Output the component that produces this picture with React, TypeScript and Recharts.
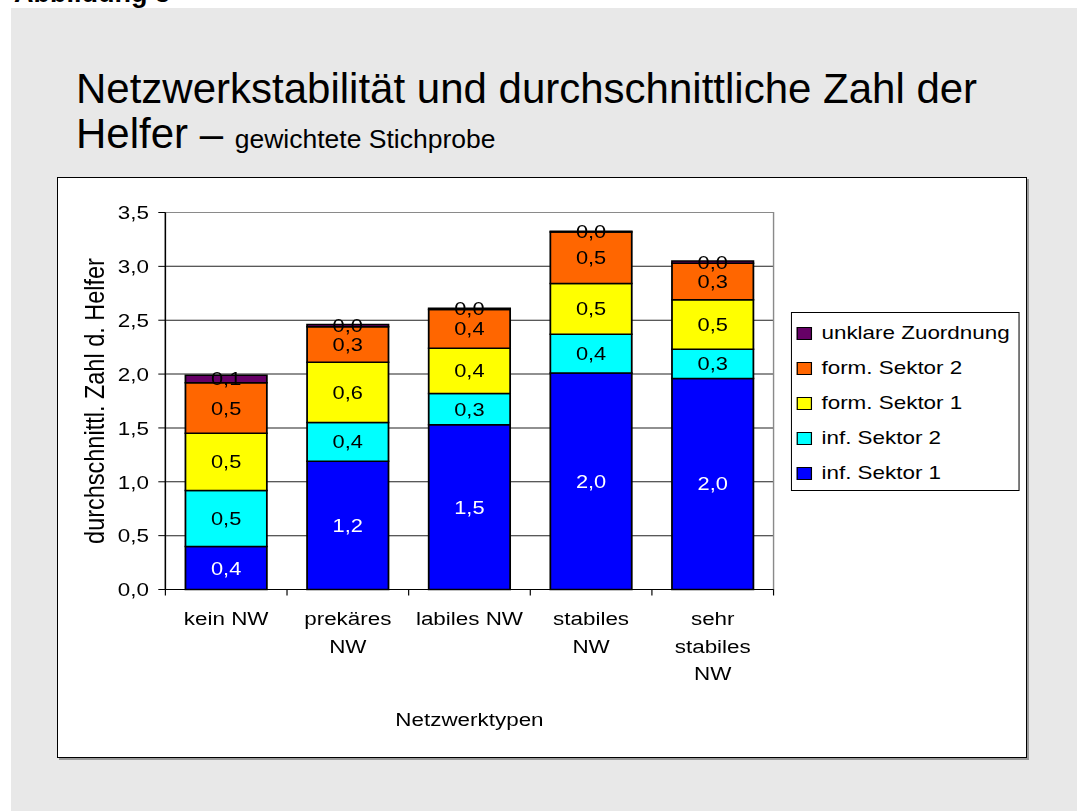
import React from 'react';
import { BarChart, Bar, XAxis, YAxis, CartesianGrid, Legend, LabelList, Label, ReferenceArea } from 'recharts';

const categories = ['kein NW', 'prekäres NW', 'labiles NW', 'stabiles NW', 'sehr stabiles NW'];
const categoryLines = [['kein NW'], ['prekäres', 'NW'], ['labiles NW'], ['stabiles', 'NW'], ['sehr', 'stabiles', 'NW']];
const infSektor1 = [0.4, 1.19, 1.53, 2.01, 1.96];
const infSektor2 = [0.52, 0.36, 0.29, 0.36, 0.27];
const formSektor1 = [0.53, 0.56, 0.42, 0.47, 0.46];
const formSektor2 = [0.47, 0.33, 0.36, 0.48, 0.34];
const unklareZuordnung = [0.07, 0.02, 0.01, 0.005, 0.02];
const yTicks = [0, 0.5, 1, 1.5, 2, 2.5, 3, 3.5];

const series = [
  { key: 'inf1', name: 'inf. Sektor 1', values: infSektor1, color: '#0000FF', labelColor: '#FFFFFF' },
  { key: 'inf2', name: 'inf. Sektor 2', values: infSektor2, color: '#00FFFF', labelColor: '#000000' },
  { key: 'form1', name: 'form. Sektor 1', values: formSektor1, color: '#FFFF00', labelColor: '#000000' },
  { key: 'form2', name: 'form. Sektor 2', values: formSektor2, color: '#FF6600', labelColor: '#000000' },
  { key: 'unklar', name: 'unklare Zuordnung', values: unklareZuordnung, color: '#660066', labelColor: '#000000' },
];

const data = categories.map((c, i) => {
  const row: Record<string, any> = { category: c, idx: i };
  series.forEach((s) => {
    row[s.key] = s.values[i];
  });
  return row;
});

const FONT = '"Liberation Sans", Arial, Helvetica, sans-serif';
const SX = 1.18;
const CHART_W = 820;
const CHART_H = 578;
const MARGIN = { top: 34.5, right: 213.6, bottom: 16.5, left: 0 };
const Y_AXIS_W = 91;
const X_AXIS_H = 150;
const PLOT_W = CHART_W - MARGIN.left - MARGIN.right - Y_AXIS_W;
const BAND = PLOT_W / categories.length;

const fmt = (v: any) => Number(v).toFixed(1).replace('.', ',');

function CategoryTick(props: any) {
  const { x, y, index } = props;
  const lines = categoryLines[index] || [];
  const isLast = index === categories.length - 1;
  return (
    <g>
      <line x1={x - BAND / 2} x2={x - BAND / 2} y1={y} y2={y + 6} stroke="#000" strokeWidth={1} />
      {isLast && <line x1={x + BAND / 2} x2={x + BAND / 2} y1={y} y2={y + 6} stroke="#000" strokeWidth={1} />}
      <text x={x} y={y + 36} textAnchor="middle" fontSize={19} fontFamily={FONT} fill="#000">
        {lines.map((ln, i) => (
          <tspan key={i} x={x} dy={i === 0 ? 0 : 27.5}>
            {ln}
          </tspan>
        ))}
      </text>
    </g>
  );
}

function LegendBox() {
  const items = [...series].reverse();
  return (
    <div
      style={{
        width: 194,
        height: 179,
        boxSizing: 'border-box',
        border: '1px solid #000',
        background: '#fff',
        paddingTop: 3,
        fontFamily: FONT,
      }}
    >
      {items.map((s) => (
        <div key={s.key} style={{ height: 35, display: 'flex', alignItems: 'center' }}>
          <div
            style={{
              width: 11,
              height: 11,
              marginLeft: 4,
              background: s.color,
              border: '1px solid #000',
            }}
          />
          <span style={{ marginLeft: 8, fontSize: 19, color: '#000', whiteSpace: 'nowrap' }}>{s.name}</span>
        </div>
      ))}
    </div>
  );
}

function YTitle(props: any) {
  const vb = props.viewBox || { x: 0, y: 0, width: 0, height: 0 };
  const cx = vb.x + 31;
  const cy = vb.y + vb.height / 2;
  return (
    <text
      x={cx}
      y={cy}
      transform={`rotate(-90 ${cx} ${cy})`}
      textAnchor="middle"
      dominantBaseline="central"
      fontSize={23.5}
      fontFamily={FONT}
      fill="#000"
    >
      durchschnittl. Zahl d. Helfer
    </text>
  );
}

export default function App() {
  return (
    <div
      style={{
        position: 'absolute',
        left: 0,
        top: 0,
        width: 1077,
        height: 811,
        background: '#fff',
        overflow: 'hidden',
        fontFamily: FONT,
      }}
    >
      <div style={{ position: 'absolute', left: 11, top: 8, right: 0, bottom: 0, background: '#E8E8E8' }} />
      <svg width={1077} height={811} style={{ position: 'absolute', left: 0, top: 0 }}>
        <text x={14} y={2} fontSize={27} fontWeight="bold" fontFamily={FONT} fill="#000">
          Abbildung 3
        </text>
        <text x={76} y={103} fontSize={42} fontFamily={FONT} fill="#000">
          Netzwerkstabilität und durchschnittliche Zahl der
        </text>
        <text x={76} y={148} fontFamily={FONT} fill="#000">
          <tspan fontSize={42}>Helfer – </tspan>
          <tspan fontSize={26.5}>gewichtete Stichprobe</tspan>
        </text>
      </svg>
      <div
        style={{
          position: 'absolute',
          left: 57,
          top: 177,
          width: 970,
          height: 581,
          boxSizing: 'border-box',
          border: '1.5px solid #000',
          boxShadow: '2px 2px 0 #9a9a9a',
          background: '#fff',
          overflow: 'hidden',
        }}
      >
        <div style={{ transform: `scaleX(${SX})`, transformOrigin: '0 0', width: CHART_W, height: CHART_H }}>
          <BarChart
            width={CHART_W}
            height={CHART_H}
            data={data}
            margin={MARGIN}
            barSize={69}
            style={{ fontFamily: FONT }}
          >
            <CartesianGrid vertical={false} stroke="#222" strokeWidth={1} />
            <ReferenceArea y1={0} y2={3.5} fill="none" stroke="#8a8a8a" strokeWidth={1.2} ifOverflow="visible" />
            <XAxis
              dataKey="category"
              type="category"
              height={X_AXIS_H}
              interval={0}
              tickSize={0}
              tickMargin={0}
              tickLine={false}
              axisLine={{ stroke: '#000', strokeWidth: 1.2 }}
              tick={<CategoryTick />}
            >
              <Label
                value="Netzwerktypen"
                position="insideBottom"
                offset={13}
                fontSize={19}
                fontFamily={FONT}
                fill="#000"
              />
            </XAxis>
            <YAxis
              type="number"
              domain={[0, 3.5]}
              ticks={yTicks}
              interval={0}
              width={Y_AXIS_W}
              tickSize={6}
              tickMargin={8}
              tickFormatter={fmt}
              axisLine={{ stroke: '#000', strokeWidth: 1.2 }}
              tickLine={{ stroke: '#000', strokeWidth: 1 }}
              tick={{ fill: '#000', fontSize: 19, fontFamily: FONT }}
            >
              <Label content={<YTitle />} />
            </YAxis>
            <Legend
              layout="horizontal"
              verticalAlign="middle"
              align="center"
              wrapperStyle={{ left: 621, top: 133.5, width: 194, height: 179 }}
              content={() => <LegendBox />}
            />
            {series.map((s) => (
              <Bar
                key={s.key}
                dataKey={s.key}
                name={s.name}
                stackId="a"
                fill={s.color}
                stroke="#000"
                strokeWidth={1.5}
                isAnimationActive={false}
              >
                <LabelList
                  dataKey={s.key}
                  position="center"
                  formatter={fmt}
                  fill={s.labelColor}
                  fontSize={18.5}
                  fontFamily={FONT}
                />
              </Bar>
            ))}
          </BarChart>
        </div>
      </div>
    </div>
  );
}
